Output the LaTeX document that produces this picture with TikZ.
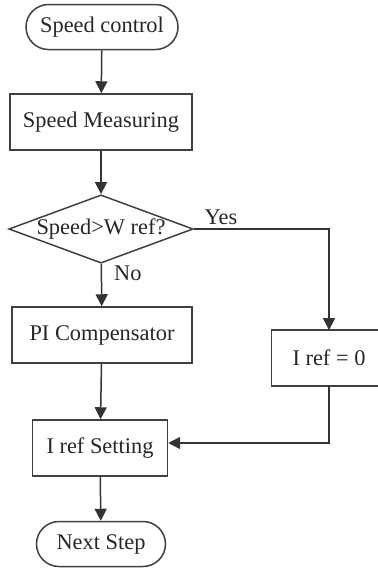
\documentclass[tikz,border=0pt]{standalone}
\usepackage{fontspec}
\setmainfont{Liberation Serif}
\usepackage{tikz}
\usetikzlibrary{positioning,arrows.meta,shapes.geometric,shapes.misc}

\begin{document}
\begin{tikzpicture}[
  x=0.5pt, y=-0.5pt,
  every node/.style={font=\fontsize{11.2}{13}\selectfont, text=black!85},
  term/.style={
    draw=black!75, rounded rectangle, line width=0.75pt,
    minimum height=22.5pt, inner sep=2pt,
  },
  proc/.style={
    draw=black!75, rectangle, line width=0.75pt,
    minimum height=28pt, inner sep=2pt,
  },
  dec/.style={
    draw=black!75, diamond, line width=0.75pt, aspect=2.7,
    minimum width=91pt, minimum height=34pt, inner sep=0pt,
  },
  flow/.style={-{Triangle[length=6pt,width=6pt]}, line width=0.75pt, black!80},
  lbl/.style={font=\fontsize{11.2}{13}\selectfont, inner sep=1pt},
]
  \useasboundingbox (0,0) rectangle (378,570);
  \clip (0,0) rectangle (378,570);

  % Main column
  \node[term, minimum width=80pt]   (start) at (102,27)  {Speed control};
  \node[proc, minimum width=91pt]   (meas)  at (101,122) {Speed Measuring};
  \node[dec]                        (cmp)   at (101,229) {Speed>W ref?};
  \node[proc, minimum width=90pt]   (pi)    at (102,335) {PI Compensator};
  \node[proc, minimum width=67.5pt] (iset)  at (100,448) {I ref Setting};
  \node[term, minimum width=68.5pt] (next)  at (101,544) {Next Step};

  % Branch on the right, its box runs past the page edge
  \node[minimum width=57pt, minimum height=27.5pt, inner sep=2pt] (izero) at (329,358) {I ref = 0};
  \draw[black!75, line width=0.75pt] (izero.north west) rectangle ([xshift=20pt]izero.south east);

  \draw[flow] (start) -- (meas);
  \draw[flow] (meas) -- (cmp);
  \draw[flow] (cmp) -- (pi)
    node[lbl, pos=0.22, anchor=west, xshift=5pt] {No};
  \draw[flow] (pi) -- (iset);
  \draw[flow] (iset) -- (next);

  \draw[flow] (cmp.east) -| (izero.north)
    node[lbl, pos=0.1, anchor=south, yshift=1pt] {Yes};
  \draw[flow] (izero.south) |- ([yshift=2.5pt]iset.east);
\end{tikzpicture}
\end{document}
